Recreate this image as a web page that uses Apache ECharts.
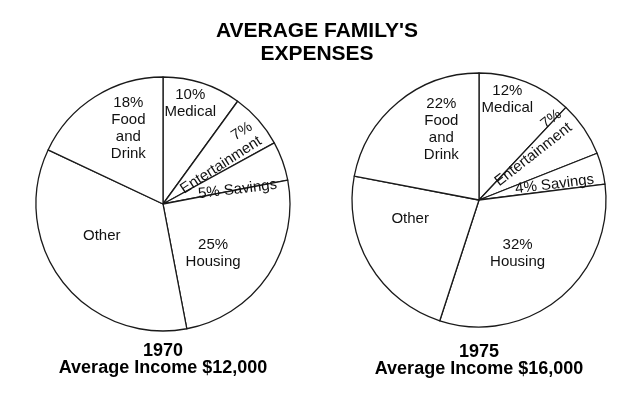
<!DOCTYPE html>
<html>
<head>
<meta charset="utf-8">
<script src="https://cdn.jsdelivr.net/npm/echarts@6/dist/echarts.min.js"></script>
<style>
  html, body { margin: 0; background: #fff; }
  #chart { width: 634px; height: 394px; }
</style>
</head>
<body>
<div id="chart"></div>
<script>
// slices go clockwise from 12 o'clock
var categories = ['Medical', 'Entertainment', 'Savings', 'Housing', 'Other', 'Food and Drink']
var values1970 = [10, 7, 5, 25, 35, 18]
var values1975 = [12, 7, 4, 32, 23, 22]
var years = ['1970', '1975']
var incomes = ['Average Income $12,000', 'Average Income $16,000']

var FONT = 'Liberation Sans'
var R = 127
// label placement: fraction of radius, angle shift from slice middle (deg), text tilt (deg)
var labelFrac1970 = [0.83, 0.56, 0.6, 0.55, 0.54, 0.66]
var labelShift1970 = [3, 0, -8, -10, -11, -8]
var labelFrac1975 = [0.83, 0.57, 0.61, 0.51, 0.56, 0.64]
var labelShift1975 = [6, 13, -2, -3, -16, -12]
var labelTilt1970 = [0, 33, 7, 0, 0, 0]
var labelTilt1975 = [0, 38, 7, 0, 0, 0]

function labelText(name, v) {
  if (name === 'Medical') return v + '%\nMedical'
  if (name === 'Entertainment') return '{p|' + v + '%}\n{e|Entertainment}'
  if (name === 'Savings') return v + '% Savings'
  if (name === 'Housing') return v + '%\nHousing'
  if (name === 'Food and Drink') return v + '%\nFood\nand\nDrink'
  return name
}

function buildData(values, fracs, shifts, tilts) {
  var total = values.reduce(function (a, b) { return a + b }, 0)
  var cum = 0
  return categories.map(function (name, i) {
    var v = values[i]
    var mid = 90 - (cum + v / 2) / total * 360 + shifts[i]
    cum += v
    var a = mid * Math.PI / 180
    var dx = Math.cos(a) * fracs[i] * R
    var dy = -Math.sin(a) * fracs[i] * R + 1
    // offset is applied in the label's rotated frame
    var t = tilts[i] * Math.PI / 180
    var label = {
      formatter: labelText(name, v),
      rotate: tilts[i],
      offset: [dx * Math.cos(t) - dy * Math.sin(t), dx * Math.sin(t) + dy * Math.cos(t)]
    }
    return { name: name, value: v, label: label }
  })
}

function pieSeries(values, center, fracs, shifts, tilts) {
  return {
    type: 'pie',
    center: center,
    radius: R,
    startAngle: 90,
    clockwise: true,
    silent: true,
    animation: false,
    avoidLabelOverlap: false,
    labelLayout: { hideOverlap: false },
    itemStyle: { color: '#fff', borderColor: '#1a1a1a', borderWidth: 1.3 },
    label: {
      show: true,
      position: 'center',
      color: '#111',
      fontFamily: FONT,
      fontSize: 15,
      lineHeight: 17,
      rich: {
        p: { fontFamily: FONT, fontSize: 15, lineHeight: 17, color: '#111', align: 'right' },
        e: { fontFamily: FONT, fontSize: 15, lineHeight: 17, color: '#111' }
      }
    },
    labelLine: { show: false },
    emphasis: { disabled: true },
    data: buildData(values, fracs, shifts, tilts)
  }
}

var subStyle = { fontFamily: FONT, fontSize: 18, fontWeight: 'bold', lineHeight: 17, color: '#000', align: 'center' }

var chart = echarts.init(document.getElementById('chart'))
chart.setOption({
  backgroundColor: '#fff',
  title: [
    {
      text: "AVERAGE FAMILY'S\nEXPENSES",
      left: 'center',
      top: 20,
      padding: 0,
      textStyle: { fontFamily: FONT, fontSize: 21, fontWeight: 'bold', lineHeight: 23, color: '#000', align: 'center' }
    },
    { text: years[0] + '\n' + incomes[0], left: 163, top: 343, padding: 0, textAlign: 'center', textStyle: subStyle },
    { text: years[1] + '\n' + incomes[1], left: 479, top: 344, padding: 0, textAlign: 'center', textStyle: subStyle }
  ],
  series: [
    pieSeries(values1970, [163, 204], labelFrac1970, labelShift1970, labelTilt1970),
    pieSeries(values1975, [479, 200], labelFrac1975, labelShift1975, labelTilt1975)
  ]
})
</script>
</body>
</html>
